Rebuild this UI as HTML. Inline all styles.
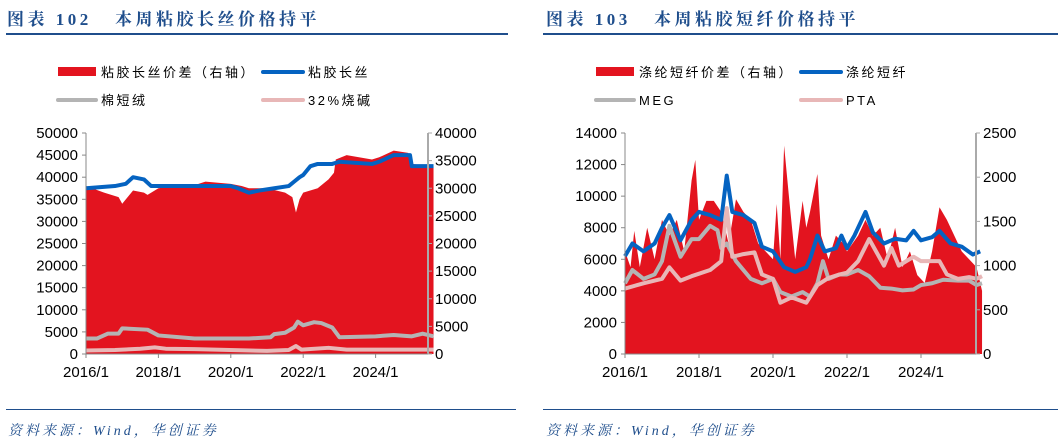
<!DOCTYPE html>
<html><head><meta charset="utf-8">
<style>
body{margin:0;background:#fff;width:1058px;height:444px;overflow:hidden;font-family:"Liberation Sans","Noto Sans CJK SC",sans-serif}
.t{position:absolute;font-family:"Liberation Serif","Noto Serif CJK SC",serif;font-weight:bold;color:#1f4e8c;font-size:17px;top:5px;letter-spacing:3.5px}
.hl{position:absolute;height:2px;background:#1f4e8c}
.src{position:absolute;top:420px;font-size:14px;font-style:italic;color:#1f4e8c;font-family:"Liberation Serif","Noto Serif CJK SC",serif;letter-spacing:3px}
svg{position:absolute;left:0;top:0}
</style></head><body>
<div class="t" style="left:7px">图表 102&nbsp;&nbsp;&nbsp;本周粘胶长丝价格持平</div>
<div class="hl" style="left:6px;width:502px;top:33px"></div>
<div class="t" style="left:546px">图表 103&nbsp;&nbsp;&nbsp;本周粘胶短纤价格持平</div>
<div class="hl" style="left:543px;width:515px;top:33px"></div>
<div class="hl" style="left:6px;width:510px;top:409px;height:1px"></div>
<div class="hl" style="left:543px;width:515px;top:409px;height:1px"></div>
<div class="src" style="left:8px">资料来源：Wind，华创证券</div>
<div class="src" style="left:546px">资料来源：Wind，华创证券</div>
<svg id="svg" width="1058" height="444"></svg>
<script>
// Chart 1 data (left axis units)
const c1RedX=[2016.0,2016.5,2016.9,2017.0,2017.15,2017.3,2017.6,2017.7,2018.0,2018.5,2019.0,2019.3,2020.0,2020.3,2020.5,2021.0,2021.5,2021.7,2021.8,2021.9,2022.0,2022.4,2022.7,2022.85,2022.9,2023.2,2023.9,2024.1,2024.5,2024.9,2025.0,2025.6];
const c1Red=[38000,36500,35500,34000,35500,37000,36500,36000,37500,38000,38200,39000,38500,38000,37500,37500,36500,35500,32000,35000,36500,37500,39500,41000,44000,45000,44000,44500,46000,45500,43000,42500];
const c1BlueX=[2016.0,2016.8,2017.1,2017.3,2017.6,2017.8,2019.0,2020.0,2020.2,2020.5,2020.8,2021.2,2021.6,2021.75,2021.9,2022.0,2022.2,2022.4,2022.8,2023.0,2023.9,2024.1,2024.5,2024.95,2025.0,2025.6];
const c1Blue=[37500,38000,38500,40000,39500,38000,38000,38000,37500,36500,37000,37500,38000,39000,40000,40500,42500,43000,43000,43500,43000,43500,45000,45000,42500,42500];
const c1GrayX=[2016.0,2016.3,2016.6,2016.9,2017.0,2017.7,2018.0,2019.0,2020.5,2021.1,2021.2,2021.5,2021.75,2021.85,2022.0,2022.3,2022.5,2022.8,2023.0,2024.0,2024.5,2025.0,2025.3,2025.6];
const c1Gray=[3500,3500,4600,4600,5800,5500,4200,3500,3500,3800,4500,4800,6000,7300,6500,7200,7000,6000,3800,4000,4300,4000,4600,4000];
const c1PinkX=[2016.0,2016.8,2017.5,2017.9,2018.2,2019.0,2021.0,2021.6,2021.8,2021.95,2022.7,2023.2,2025.6];
const c1Pink=[800,900,1200,1500,1200,1100,700,900,1800,1000,1400,1000,1000];
const c1LeftTicks=[0,5000,10000,15000,20000,25000,30000,35000,40000,45000,50000];
const c1RightTicks=[0,5000,10000,15000,20000,25000,30000,35000,40000];
const xTickLabels=["2016/1","2018/1","2020/1","2022/1","2024/1"];
const xTickVals=[2016,2018,2020,2022,2024];
// Chart 2 data
const c2RedX=[2016.0,2016.15,2016.25,2016.4,2016.6,2016.8,2017.0,2017.2,2017.4,2017.6,2017.8,2017.9,2018.0,2018.2,2018.4,2018.6,2018.8,2019.0,2019.2,2019.4,2019.6,2019.8,2020.0,2020.1,2020.2,2020.3,2020.45,2020.6,2020.8,2020.9,2021.0,2021.2,2021.3,2021.5,2021.7,2021.9,2022.0,2022.3,2022.5,2022.7,2022.9,2023.1,2023.3,2023.5,2023.7,2023.9,2024.1,2024.3,2024.5,2024.7,2024.9,2025.1,2025.3,2025.5,2025.65];
const c2Red=[6500,5500,7800,5500,8000,6000,8500,7500,8500,6500,11000,12300,8500,9700,9700,9000,7000,9800,9000,8500,7000,6500,6000,9500,6000,13200,9500,6000,9700,8000,9000,11400,7500,6000,7500,7000,6500,7500,8500,7500,8000,6000,8000,5500,6500,5000,4500,6500,9300,8500,7500,6500,6000,5500,4000];
const c2BlueX=[2016.0,2016.2,2016.5,2016.8,2017.0,2017.2,2017.5,2017.8,2018.0,2018.3,2018.6,2018.75,2018.9,2019.2,2019.5,2019.7,2020.0,2020.3,2020.6,2020.9,2021.0,2021.2,2021.4,2021.7,2021.85,2022.0,2022.2,2022.5,2022.7,2023.0,2023.3,2023.6,2023.8,2024.0,2024.3,2024.5,2024.8,2025.1,2025.4,2025.6];
const c2Blue=[6200,7000,6500,7000,8000,8800,7200,8500,9000,8800,8500,11300,9000,8800,8300,6800,6500,5500,5200,5500,6000,7500,6500,6700,7500,6700,7500,9000,7700,7000,7300,7200,7800,7200,7400,7800,7000,6800,6300,6500];
const c2GrayX=[2016.0,2016.2,2016.5,2016.8,2017.0,2017.2,2017.5,2017.8,2018.0,2018.3,2018.5,2018.6,2018.75,2019.0,2019.4,2019.7,2020.0,2020.2,2020.5,2020.8,2021.0,2021.2,2021.35,2021.5,2021.8,2022.0,2022.3,2022.6,2022.9,2023.2,2023.5,2023.8,2024.0,2024.3,2024.6,2025.0,2025.3,2025.5,2025.65];
const c2Gray=[800,950,850,900,1050,1450,1100,1300,1300,1450,1400,1200,1250,1050,850,800,850,700,650,700,650,800,1050,850,900,900,950,880,750,740,720,730,780,800,840,830,830,780,800];
const c2PinkX=[2016.0,2016.5,2017.0,2017.2,2017.5,2017.8,2018.3,2018.6,2018.75,2018.9,2019.2,2019.5,2019.7,2020.0,2020.2,2020.5,2020.9,2021.2,2021.5,2021.8,2022.0,2022.3,2022.6,2022.8,2023.0,2023.2,2023.4,2023.8,2024.0,2024.5,2024.7,2025.0,2025.3,2025.5,2025.65];
const c2Pink=[740,800,850,980,830,880,950,1050,1650,1100,1130,1150,900,850,580,640,580,780,860,900,920,1050,1300,1150,1000,1200,1000,1100,1050,1050,900,850,870,850,880];
const c2LeftTicks=[0,2000,4000,6000,8000,10000,12000,14000];
const c2RightTicks=[0,500,1000,1500,2000,2500];

const NS="http://www.w3.org/2000/svg";
const svg=document.getElementById('svg');
function mk(tag,attrs,name){const e=document.createElementNS(NS,tag);for(const k in attrs)e.setAttribute(k,attrs[k]);


svg.appendChild(e);return e;}
function txt(x,y,s,anchor,name,size,ls){const e=mk('text',{x:x,y:y,'text-anchor':anchor,'font-size':size||15,fill:'#000','letter-spacing':ls||0,'font-family':'"Liberation Sans","Noto Sans CJK SC",sans-serif'},name);e.textContent=s;return e;}

function chart(o){
  const X=v=>o.x0+(v-2016)*o.ppy;
  const YL=v=>o.yb-(v/o.lmax)*(o.yb-o.yt);
  const YR=v=>o.yb-(v/o.rmax)*(o.yb-o.yt);
  let d='M'+X(o.redX[0])+','+o.yb;
  o.redX.forEach((x,i)=>{d+=' L'+X(x)+','+YL(o.red[i]);});
  d+=' L'+X(o.redX[o.redX.length-1])+','+o.yb+' Z';
  mk('path',{d:d,fill:'#e3141f'},o.p+'-spread-area');
  function line(xs,vs,Y,col,name){mk('polyline',{points:xs.map((x,i)=>X(x)+','+Y(vs[i])).join(' '),fill:'none',stroke:col,'stroke-width':4,'stroke-linejoin':'round'},name);}
  line(o.grayX,o.gray,o.grayY==='L'?YL:YR,'#b4b4b4',o.p+'-gray-line');
  line(o.pinkX,o.pink,o.grayY==='L'?YL:YR,'#e8b7b7',o.p+'-pink-line');
  line(o.blueX,o.blue,YL,'#0563c1',o.p+'-blue-line');
  mk('line',{x1:o.x0,y1:o.yt,x2:o.x0,y2:o.yb,stroke:'#888'},o.p+'-y-axis-left');
  mk('line',{x1:o.xr,y1:o.yt,x2:o.xr,y2:o.yb,stroke:'#aaa','stroke-width':2},o.p+'-y-axis-right');
  mk('line',{x1:o.x0,y1:o.yb,x2:o.xr,y2:o.yb,stroke:'#888'},o.p+'-x-axis');
  o.lt.forEach(v=>{mk('line',{x1:o.x0-4,y1:YL(v),x2:o.x0,y2:YL(v),stroke:'#888'},o.p+'-left-tick');txt(o.x0-8,YL(v)+5,String(v),'end',o.p+'-left-tick-label');});
  o.rt.forEach(v=>{mk('line',{x1:o.xr,y1:YR(v),x2:o.xr+4,y2:YR(v),stroke:'#aaa'},o.p+'-right-tick');txt(o.xr+7,YR(v)+5,String(v),'start',o.p+'-right-tick-label');});
  xTickVals.forEach((v,i)=>{mk('line',{x1:X(v),y1:o.yb,x2:X(v),y2:o.yb+4,stroke:'#888'},o.p+'-x-tick');txt(X(v),o.yb+23,xTickLabels[i],'middle',o.p+'-x-tick-label');});
  const L=o.leg;
  mk('rect',{x:L.x,y:67,width:38,height:9,fill:'#e3141f'},o.p+'-legend-swatch-spread');
  txt(L.x+43,77,L.n[0],'start',o.p+'-legend-spread',13,2.5);
  mk('line',{x1:L.x2,y1:72,x2:L.x2+40,y2:72,stroke:'#0563c1','stroke-width':4,'stroke-linecap':'round'},o.p+'-legend-swatch-blue');
  txt(L.x2+45,77,L.n[1],'start',o.p+'-legend-blue',13,2.5);
  mk('line',{x1:L.x,y1:100,x2:L.x+38,y2:100,stroke:'#b4b4b4','stroke-width':4,'stroke-linecap':'round'},o.p+'-legend-swatch-gray');
  txt(L.x+43,105,L.n[2],'start',o.p+'-legend-gray',13,2.5);
  mk('line',{x1:L.x2,y1:100,x2:L.x2+40,y2:100,stroke:'#e8b7b7','stroke-width':4,'stroke-linecap':'round'},o.p+'-legend-swatch-pink');
  txt(L.x2+45,105,L.n[3],'start',o.p+'-legend-pink',13,2.5);
}
chart({p:'c1',x0:86,xr:428,ppy:36.2,yt:133,yb:354,lmax:50000,rmax:40000,redX:c1RedX,red:c1Red,blueX:c1BlueX,blue:c1Blue,grayX:c1GrayX,gray:c1Gray,pinkX:c1PinkX,pink:c1Pink,grayY:'L',lt:c1LeftTicks,rt:c1RightTicks,leg:{x:58,x2:263,n:['粘胶长丝价差（右轴）','粘胶长丝','棉短绒','32%烧碱']}});
chart({p:'c2',x0:625,xr:976,ppy:37,yt:133,yb:354,lmax:14000,rmax:2500,redX:c2RedX,red:c2Red,blueX:c2BlueX,blue:c2Blue,grayX:c2GrayX,gray:c2Gray,pinkX:c2PinkX,pink:c2Pink,grayY:'R',lt:c2LeftTicks,rt:c2RightTicks,leg:{x:596,x2:801,n:['涤纶短纤价差（右轴）','涤纶短纤','MEG','PTA']}});
</script>
</body></html>
